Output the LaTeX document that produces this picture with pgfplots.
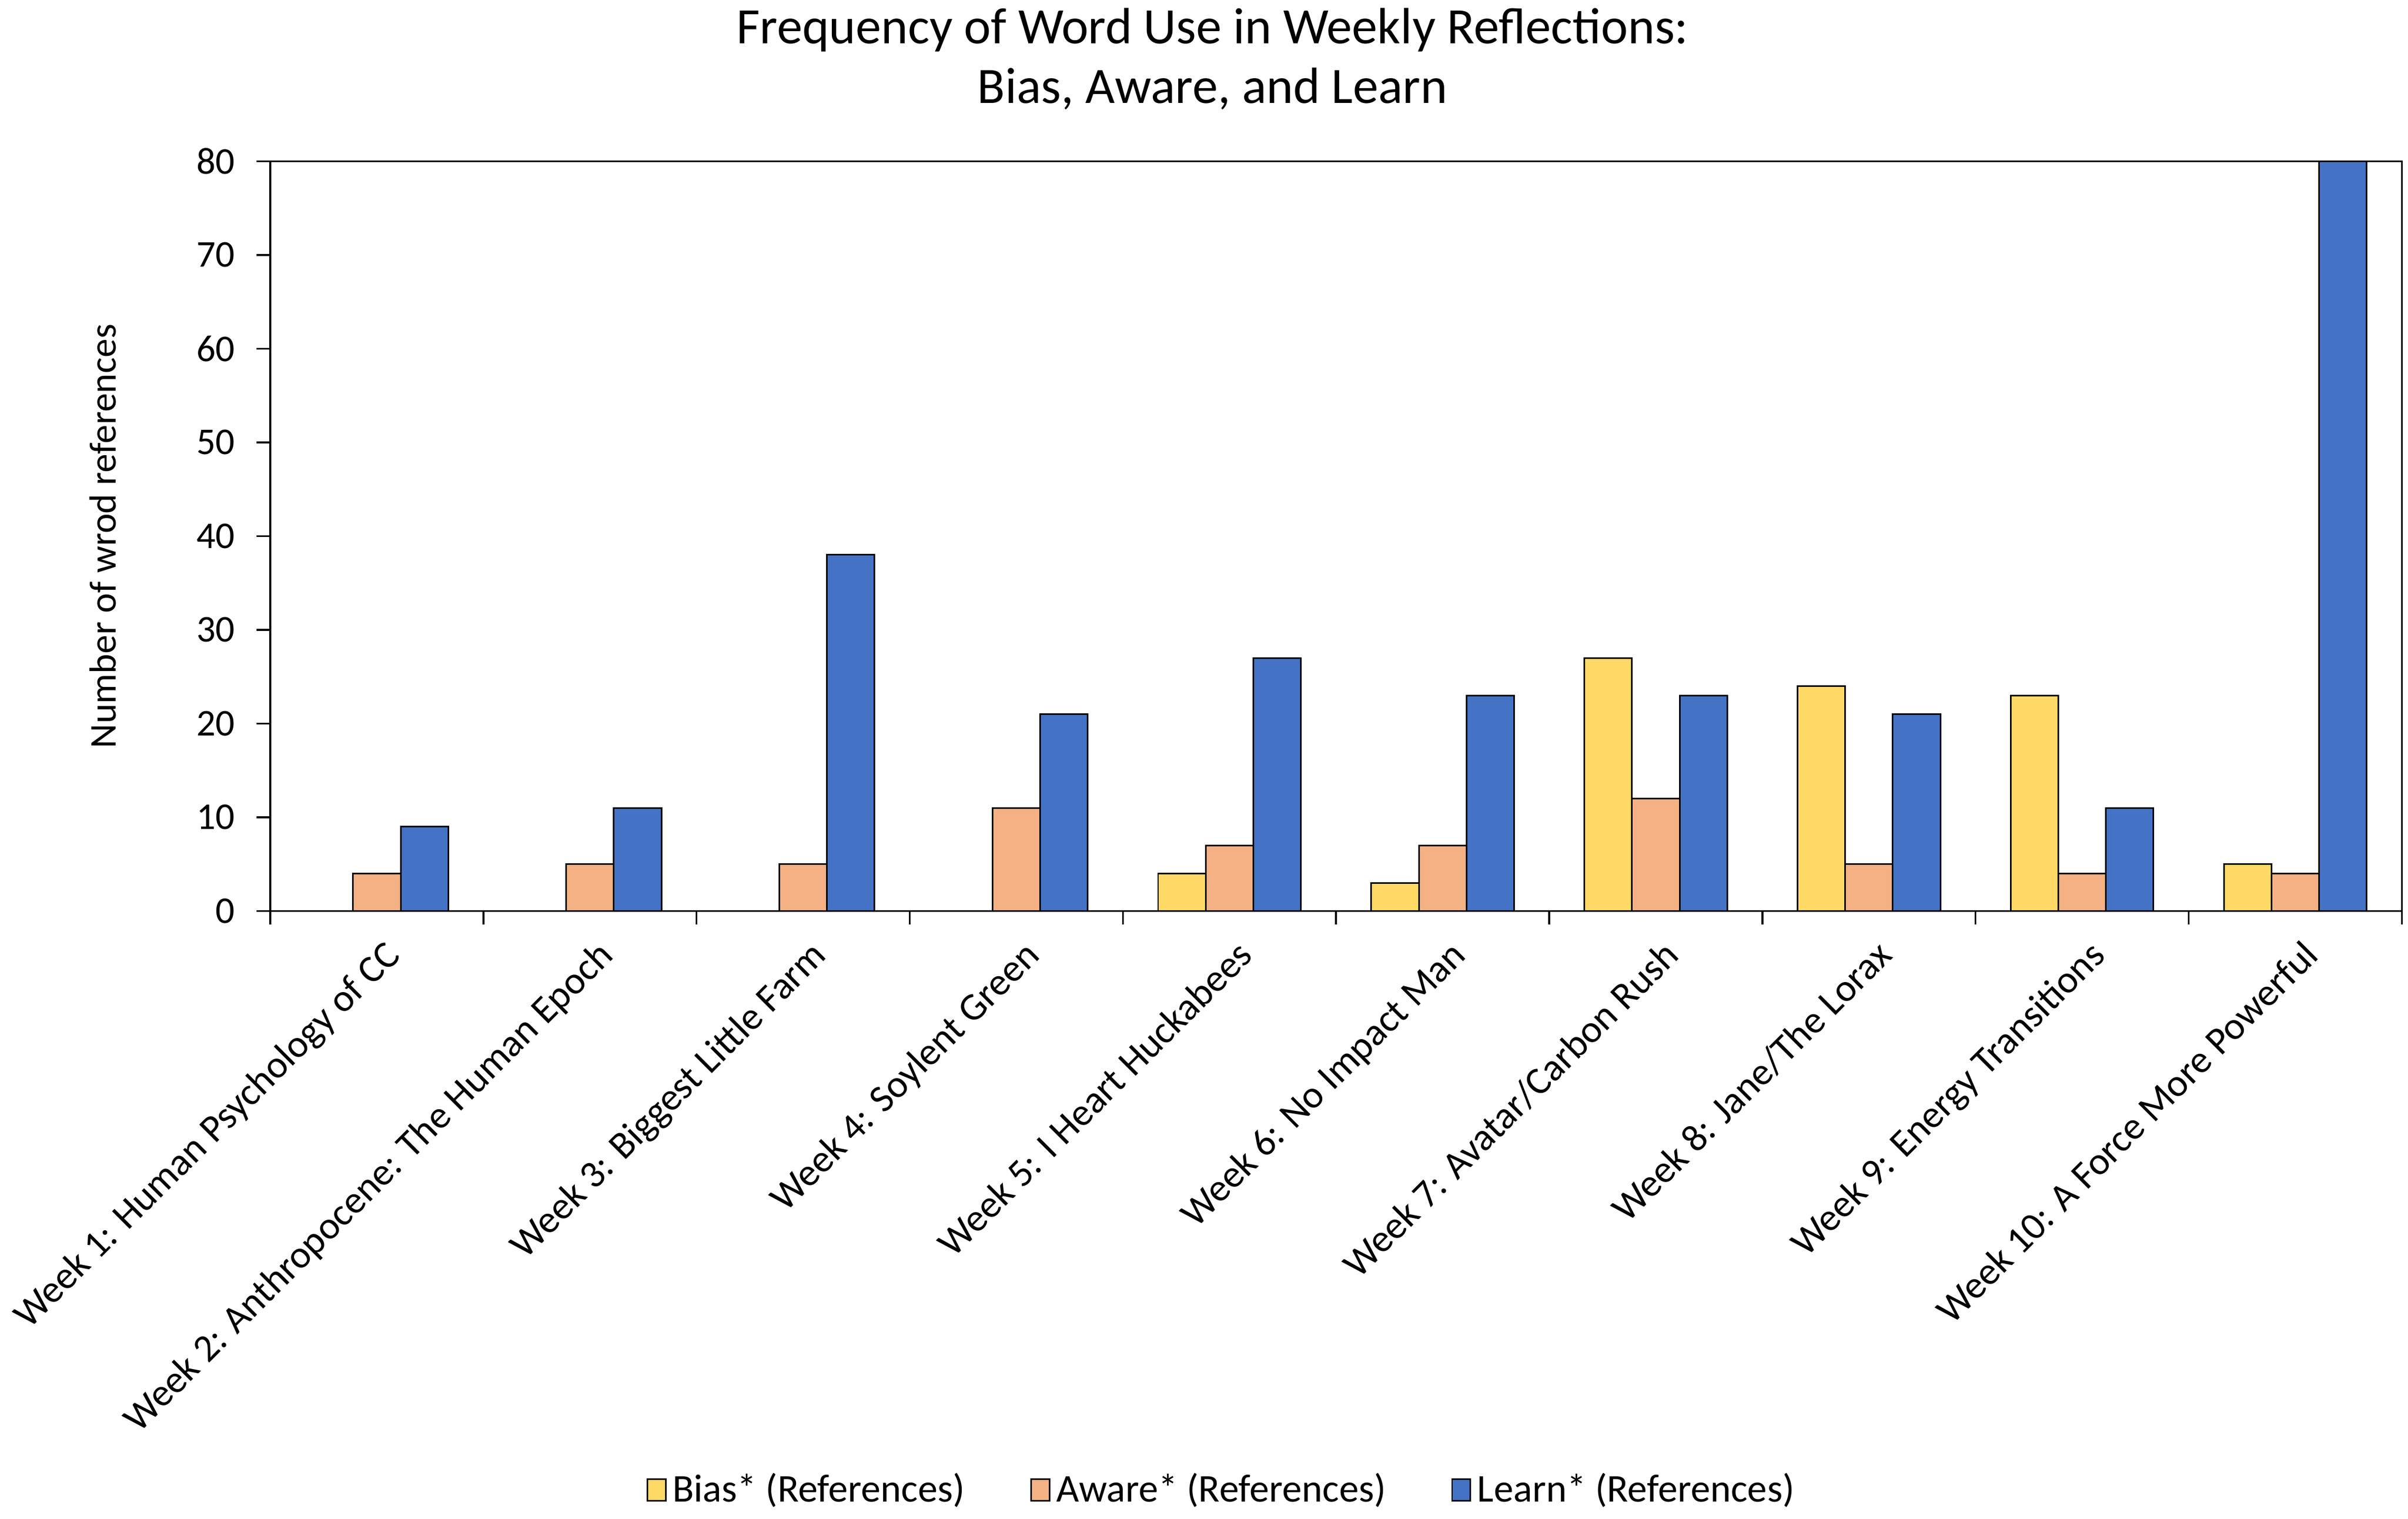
\documentclass[border=0pt]{standalone}
\usepackage{pgfplots}
\pgfplotsset{compat=1.18}
\usepackage{fontspec}
\setmainfont{Carlito}
\definecolor{biasc}{HTML}{FFD966}
\definecolor{awarec}{HTML}{F4B183}
\definecolor{learnc}{HTML}{4472C4}
\begin{document}
\begin{tikzpicture}
\useasboundingbox (-88pt,-197.8pt) rectangle (696pt,296.5pt);
\begin{axis}[
  at={(0,0)}, anchor=south west,
  scale only axis, width=694pt, height=244pt,
  ybar=0pt, bar width=15.5pt,
  xmin=-0.5, xmax=9.5, ymin=0, ymax=80,
  ytick={0,10,...,80},
  xtick={0,...,9},
  xticklabels={Week 1: Human Psychology of CC, Week 2: Anthropocene: The Human Epoch, Week 3: Biggest Little Farm, Week 4: Soylent Green, Week 5: I Heart Huckabees, Week 6: No Impact Man, Week 7: Avatar/Carbon Rush, Week 8: Jane/The Lorax, Week 9: Energy Transitions, Week 10: A Force More Powerful},
  major x tick style={draw=none},
  minor xtick={-0.5,0.5,...,9.5},
  tick align=outside, tick pos=left,
  major tick length=4.4pt, minor tick length=4.4pt,
  axis line style={line width=0.6pt},
  tick style={line width=0.6pt, black},
  /pgf/number format/assume math mode=true,
  yticklabel style={font=\fontsize{12.3}{14}\selectfont, anchor=east, inner sep=0pt, xshift=-7pt},
  xticklabel style={font=\fontsize{12.6}{14}\selectfont, rotate=45, anchor=base east, inner sep=0pt, yshift=-13.3pt, xshift=-1.75pt},
  ylabel={Number of wrod references},
  ylabel style={at={(axis description cs:-0.0785,0.5)}, anchor=center, font=\fontsize{12.3}{14}\selectfont},
  title={Frequency of Word Use in Weekly Reflections:\\Bias, Aware, and Learn},
  title style={at={(axis description cs:0.442,1)}, anchor=south, align=center, font=\fontsize{16.6}{19.5}\selectfont, yshift=10.5pt, inner sep=0pt},
  legend style={draw=none, at={(axis description cs:0.4472,-0.7725)}, anchor=center, legend columns=3, font=\fontsize{12.8}{14}\selectfont, /tikz/every even column/.append style={column sep=19.25pt}},
  legend image code/.code={\draw[#1,draw=black,line width=0.5pt] (0pt,-3.5pt) rectangle (6pt,3.5pt);},
]
\addplot[fill=biasc, draw=black, line width=0.5pt] coordinates {(0,0) (1,0) (2,0) (3,0) (4,4) (5,3) (6,27) (7,24) (8,23) (9,5)};
\addplot[fill=awarec, draw=black, line width=0.5pt] coordinates {(0,4) (1,5) (2,5) (3,11) (4,7) (5,7) (6,12) (7,5) (8,4) (9,4)};
\addplot[fill=learnc, draw=black, line width=0.5pt] coordinates {(0,9) (1,11) (2,38) (3,21) (4,27) (5,23) (6,23) (7,21) (8,11) (9,80)};
\legend{Bias* (References), Aware* (References), Learn* (References)}
\end{axis}
\end{tikzpicture}
\end{document}
